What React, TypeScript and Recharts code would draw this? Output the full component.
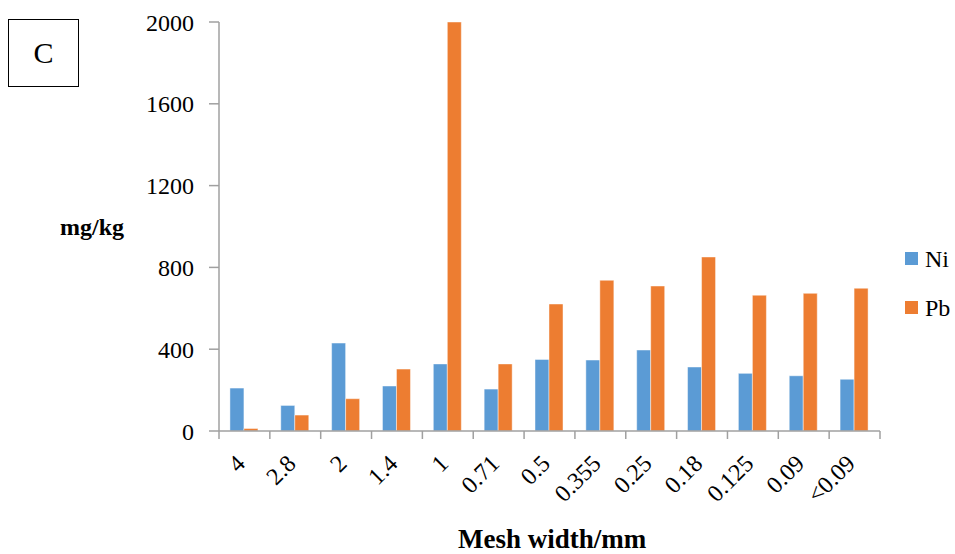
import React from "react";
import { BarChart, Bar, XAxis, YAxis, Legend } from "recharts";

const categories = ["4", "2.8", "2", "1.4", "1", "0.71", "0.5", "0.355", "0.25", "0.18", "0.125", "0.09", "<0.09"];
const niValues = [210, 125, 430, 220, 328, 205, 350, 347, 396, 313, 282, 270, 253];
const pbValues = [12, 78, 158, 303, 2000, 328, 621, 737, 709, 851, 664, 673, 698];
const yTicks = [0, 400, 800, 1200, 1600, 2000];

const data = categories.map((c, i) => ({ mesh: c, Ni: niValues[i], Pb: pbValues[i] }));

const FONT = "Liberation Serif";
const AXIS = "#a0a0a0";
const NI = "#5B9BD5";
const PB = "#ED7D31";

const XTick = (props: any) => {
  const { x, y, payload, width, visibleTicksCount, index } = props;
  const band = width / (visibleTicksCount || categories.length);
  const half = band / 2;
  const isLast = index === (visibleTicksCount || categories.length) - 1;
  return (
    <g>
      <line x1={x - half} x2={x - half} y1={y} y2={y + 8} stroke={AXIS} strokeWidth={1.5} />
      {isLast && <line x1={x + half} x2={x + half} y1={y} y2={y + 8} stroke={AXIS} strokeWidth={1.5} />}
      <g transform={`translate(${x + 2},${y + 34})`}>
        <text x={0} y={0} textAnchor="end" transform="rotate(-45)" fontSize={24} fontFamily={FONT} fill="#000">
          {payload.value}
        </text>
      </g>
    </g>
  );
};

const LegendContent = (props: any) => {
  const { payload } = props;
  return (
    <div style={{ fontFamily: FONT, fontSize: 24, color: "#000" }}>
      {payload.map((p: any) => (
        <div key={p.value} style={{ display: "flex", alignItems: "center", height: 49 }}>
          <div style={{ width: 13, height: 13, background: p.color, marginRight: 7 }} />
          <span style={{ lineHeight: 1 }}>{p.value}</span>
        </div>
      ))}
    </div>
  );
};

export default function App() {
  return (
    <div style={{ position: "absolute", left: 0, top: 0, width: 955, height: 554, background: "#fff" }}>
      <BarChart
        width={955}
        height={554}
        data={data}
        margin={{ top: 22, right: 75, bottom: 122, left: 0 }}
        barCategoryGap="21.5%"
        barGap={0}
      >
        <XAxis
          xAxisId="cat"
          dataKey="mesh"
          height={1}
          interval={0}
          tickSize={0}
          tickMargin={0}
          tickLine={false}
          axisLine={{ stroke: AXIS, strokeWidth: 1.5 }}
          tick={<XTick />}
        />
        <YAxis
          width={219}
          domain={[0, 2000]}
          ticks={yTicks}
          interval={0}
          tickSize={10}
          tickMargin={15}
          axisLine={{ stroke: AXIS, strokeWidth: 1.5 }}
          tickLine={{ stroke: AXIS, strokeWidth: 1.5 }}
          tick={{ fill: "#000", fontSize: 24, fontFamily: FONT }}
        />
        <Legend
          layout="vertical"
          align="center"
          verticalAlign="middle"
          content={<LegendContent />}
          wrapperStyle={{ position: "absolute", left: 905, top: 234, width: 60 }}
        />
        <Bar xAxisId="cat" dataKey="Ni" fill={NI} stroke="#ffffff" strokeOpacity={0.45} strokeWidth={1} isAnimationActive={false} />
        <Bar xAxisId="cat" dataKey="Pb" fill={PB} stroke="#ffffff" strokeOpacity={0.45} strokeWidth={1} isAnimationActive={false} />
      </BarChart>
      <div
        style={{
          position: "absolute",
          left: 8,
          top: 19,
          width: 71,
          height: 68,
          border: "1.5px solid #000",
          boxSizing: "border-box",
          display: "flex",
          alignItems: "center",
          justifyContent: "center",
          fontFamily: FONT,
          fontSize: 30,
          color: "#000",
        }}
      >
        C
      </div>
      <div
        style={{
          position: "absolute",
          left: 60,
          top: 215,
          fontFamily: FONT,
          fontWeight: "bold",
          fontSize: 24,
          lineHeight: 1,
          color: "#000",
          whiteSpace: "nowrap",
        }}
      >
        mg/kg
      </div>
      <div
        style={{
          position: "absolute",
          left: 458,
          top: 526,
          fontFamily: FONT,
          fontWeight: "bold",
          fontSize: 27,
          lineHeight: 1,
          color: "#000",
          whiteSpace: "nowrap",
        }}
      >
        Mesh width/mm
      </div>
    </div>
  );
}
